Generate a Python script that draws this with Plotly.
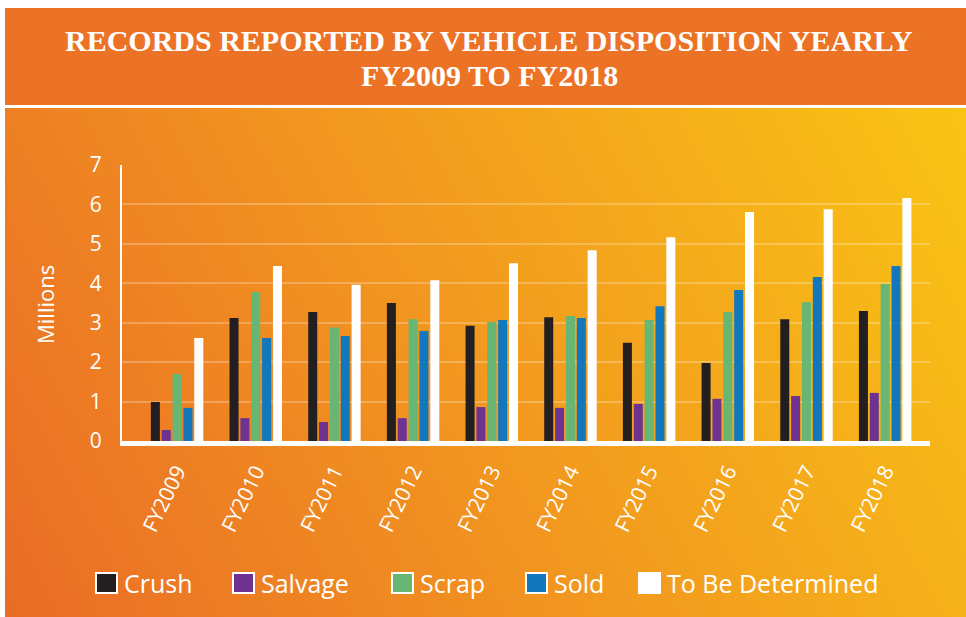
import base64
import plotly.graph_objects as go

categories = ["FY2009", "FY2010", "FY2011", "FY2012", "FY2013",
              "FY2014", "FY2015", "FY2016", "FY2017", "FY2018"]
crush = [0.99, 3.12, 3.27, 3.50, 2.92, 3.14, 2.49, 1.98, 3.09, 3.30]
salvage = [0.28, 0.58, 0.48, 0.58, 0.86, 0.84, 0.94, 1.07, 1.14, 1.22]
scrap = [1.70, 3.78, 2.88, 3.09, 3.02, 3.17, 3.07, 3.27, 3.52, 3.98]
sold = [0.84, 2.61, 2.66, 2.79, 3.07, 3.12, 3.42, 3.83, 4.16, 4.44]
tbd = [2.61, 4.44, 3.96, 4.08, 4.51, 4.84, 5.17, 5.81, 5.88, 6.16]

series_names = ["Crush", "Salvage", "Scrap", "Sold", "To Be Determined"]
series_values = [crush, salvage, scrap, sold, tbd]
series_colors = ["#231F20", "#6E3391", "#67B673", "#1277BC", "#FFFFFF"]
y_ticks = [0, 1, 2, 3, 4, 5, 6, 7]

title_line1 = "RECORDS REPORTED BY VEHICLE DISPOSITION YEARLY"
title_line2 = "FY2009 TO FY2018"

W, H = 966, 617
L, R, T, B = 122, 930, 165, 441  # plot area in pixels
PW, PH = R - L, B - T


def px_x(x):
    return (x - L) / PW


def px_y(y):
    return (B - y) / PH


svg = f'''<svg xmlns="http://www.w3.org/2000/svg" width="{W}" height="{H}" viewBox="0 0 {W} {H}" preserveAspectRatio="none">
<defs><linearGradient id="g" gradientUnits="userSpaceOnUse" x1="5" y1="{H}" x2="{W}" y2="108">
<stop offset="0" stop-color="#EA6C26"/>
<stop offset="0.5" stop-color="#F2991F"/>
<stop offset="1" stop-color="#F9C414"/>
</linearGradient></defs>
<rect x="0" y="0" width="{W}" height="{H}" fill="#FFFFFF"/>
<rect x="5" y="8" width="{W-5}" height="97" fill="#EC7225"/>
<rect x="5" y="108" width="{W-5}" height="{H-108}" fill="url(#g)"/>
</svg>'''
svg_uri = "data:image/svg+xml;base64," + base64.b64encode(svg.encode()).decode()

fig = go.Figure()
for name, vals, col in zip(series_names, series_values, series_colors):
    fig.add_trace(go.Bar(x=categories, y=vals, name=name,
                         marker=dict(color=col, line=dict(width=0)),
                         showlegend=False))

fig.add_layout_image(dict(source=svg_uri, xref="paper", yref="paper",
                          x=px_x(0), y=px_y(0), sizex=W / PW, sizey=H / PH,
                          xanchor="left", yanchor="top", sizing="stretch",
                          layer="below"))

title_font = dict(family="Liberation Serif", size=30, color="white", weight="bold")
annotations = [
    dict(text=title_line1, x=px_x(489), y=px_y(40), xref="paper", yref="paper",
         showarrow=False, xanchor="center", yanchor="middle", font=title_font),
    dict(text=title_line2, x=px_x(489), y=px_y(76), xref="paper", yref="paper",
         showarrow=False, xanchor="center", yanchor="middle", font=title_font),
    dict(text="Millions", x=px_x(45), y=px_y(305), xref="paper", yref="paper",
         showarrow=False, textangle=-90, xanchor="center", yanchor="middle",
         font=dict(family="Open Sans", size=22, color="white")),
]

# custom legend
legend_box_x = [96, 233, 392, 526, 639]
legend_y = 583
shapes = []
for name, col, bx in zip(series_names, series_colors, legend_box_x):
    shapes.append(dict(type="rect", xref="paper", yref="paper",
                       x0=px_x(bx), x1=px_x(bx + 21), y0=px_y(legend_y + 10), y1=px_y(legend_y - 10),
                       fillcolor=col, line=dict(color="white", width=2), layer="above"))
    annotations.append(dict(text=name, x=px_x(bx + 26), y=px_y(legend_y), xref="paper", yref="paper",
                            showarrow=False, xanchor="left", yanchor="middle",
                            font=dict(family="Open Sans", size=25, color="white")))

fig.update_layout(
    width=W, height=H,
    margin=dict(l=L, r=W - R, t=T, b=H - B, pad=0),
    paper_bgcolor="white",
    plot_bgcolor="rgba(0,0,0,0)",
    barmode="group",
    bargap=0.31,
    bargroupgap=0.17,
    showlegend=False,
    annotations=annotations,
    shapes=shapes,
    xaxis=dict(range=[-0.70, 9.57], showgrid=False, showline=True, linecolor="white",
               linewidth=5, tickangle=-64, ticks="outside", ticklen=5,
               tickcolor="rgba(0,0,0,0)",
               tickfont=dict(family="Open Sans", size=21, color="white"),
               zeroline=False, fixedrange=True),
    yaxis=dict(range=[0, 7], tickvals=y_ticks, showgrid=True,
               gridcolor="rgba(255,255,255,0.25)", gridwidth=2,
               showline=True, linecolor="white", linewidth=2,
               ticks="outside", ticklen=14, tickcolor="rgba(0,0,0,0)",
               tickfont=dict(family="Open Sans", size=21, color="white"),
               zeroline=False, fixedrange=True),
)

fig.write_html(
    "out.html",
    config={"displayModeBar": False},
    post_script="document.body.style.margin='0';"
                "document.body.style.overflow='hidden';"
                "document.documentElement.style.overflow='hidden';",
)
